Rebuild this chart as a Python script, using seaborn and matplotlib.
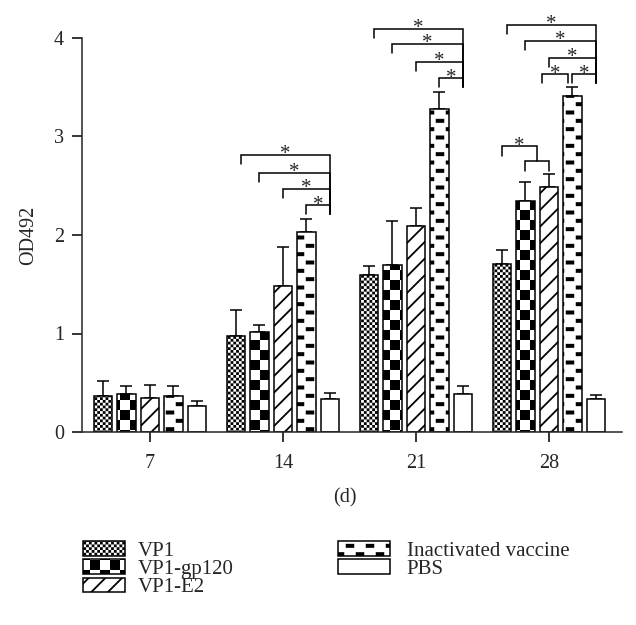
import numpy as np
import pandas as pd
import seaborn as sns
import matplotlib.pyplot as plt
import matplotlib.hatch as mhatch
from matplotlib.path import Path
from matplotlib.patches import Patch

days = ["7", "14", "21", "28"]
groups = ["VP1", "VP1-gp120", "VP1-E2", "Inactivated vaccine", "PBS"]

# OD492 means per day
vp1 = [0.37, 0.97, 1.59, 1.71]
vp1_gp120 = [0.39, 1.02, 1.70, 2.35]
vp1_e2 = [0.35, 1.48, 2.09, 2.49]
inactivated = [0.37, 2.03, 3.28, 3.41]
pbs = [0.26, 0.34, 0.39, 0.33]

# upper error bars
vp1_sd = [0.15, 0.27, 0.10, 0.14]
vp1_gp120_sd = [0.08, 0.07, 0.44, 0.19]
vp1_e2_sd = [0.13, 0.40, 0.18, 0.13]
inactivated_sd = [0.10, 0.13, 0.17, 0.09]
pbs_sd = [0.05, 0.06, 0.08, 0.05]

# significance brackets (day index, left group, right group, height)
sig_day = [1, 1, 1, 1, 2, 2, 2, 2, 3, 3, 3, 3, 3]
sig_left = [0, 1, 2, 3, 0, 1, 2, 3, 0, 1, 2, 2, 3]
sig_right = [4, 4, 4, 4, 4, 4, 4, 4, 4, 4, 4, 3, 4]
sig_y = [2.81, 2.63, 2.47, 2.30, 4.09, 3.94, 3.76, 3.59,
         4.13, 3.97, 3.80, 3.63, 3.63]
# day 28: VP1 vs (VP1-gp120, VP1-E2)
combo_y = [2.90, 2.755]

values = [vp1, vp1_gp120, vp1_e2, inactivated, pbs]
errors = [vp1_sd, vp1_gp120_sd, vp1_e2_sd, inactivated_sd, pbs_sd]
hatches = ["o", "O", "//", "*", ""]

df = pd.DataFrame({
    "day": np.tile(days, len(groups)),
    "group": np.repeat(groups, len(days)),
    "od": np.concatenate(values),
})

# --- custom fill patterns (checkerboards, bricks) hooked into mpl hatching ---
HATCH_LW = 1.3
inset = HATCH_LW * 100 / 72 / 100 / 2   # hatch tile = 1 inch = 100 px


def checker_rects(n):
    c = 1 / n
    return [(i * c + inset, j * c + inset, c - 2 * inset, c - 2 * inset)
            for i in range(n) for j in range(n) if (i + j) % 2 == 0]


def brick_rects(nx, ny, w, h):
    px, py = 1 / nx, 1 / ny
    out = []
    for k in range(ny):
        for c in range(nx):
            out.append(((c + 0.5) * px - w / 2 + inset, (k + 0.25) * py - h / 2 + inset,
                        w - 2 * inset, h - 2 * inset))
        for c in range(nx + 1):
            out.append((c * px - w / 2 + inset, (k + 0.75) * py - h / 2 + inset,
                        w - 2 * inset, h - 2 * inset))
    return out


def tile_hatch(char, rects):
    class TileHatch(mhatch.HatchPatternBase):
        def __init__(self, hatch, density):
            self.num_vertices = 5 * len(rects) if char in hatch else 0

        def set_vertices_and_codes(self, vertices, codes):
            for i, (x, y, w, h) in enumerate(rects):
                vertices[5 * i:5 * i + 5] = [(x, y), (x + w, y), (x + w, y + h), (x, y + h), (x, y)]
                codes[5 * i:5 * i + 5] = [Path.MOVETO, Path.LINETO, Path.LINETO,
                                          Path.LINETO, Path.CLOSEPOLY]
    return TileHatch


# keep the line hatches, swap the circle/star ones for our tiles
line_hatches = [t for t in mhatch._hatch_types
                if t.__name__ not in ("SmallCircles", "LargeCircles",
                                      "SmallFilledCircles", "Stars")]
mhatch._hatch_types[:] = line_hatches + [
    tile_hatch("o", checker_rects(36)),
    tile_hatch("O", checker_rects(10)),
    tile_hatch("*", brick_rects(5, 6, 0.085, 0.04)),
]

sns.set_style("ticks")
plt.rcParams["font.family"] = ["Liberation Serif", "DejaVu Serif"]
plt.rcParams["hatch.linewidth"] = HATCH_LW
plt.rcParams["hatch.color"] = "black"

fig = plt.figure(figsize=(6.36, 6.25), dpi=100)
ax = fig.add_axes([82 / 636, 193 / 625, 540 / 636, 423.55 / 625])

sns.barplot(data=df, x="day", y="od", hue="group", order=days, hue_order=groups,
            palette=["white"] * 5, edgecolor="black", linewidth=1.1,
            width=0.8835, gap=0.22, errorbar=None, legend=False, ax=ax)

for cont, h in zip(ax.containers, hatches):
    for bar in cont:
        bar.set_hatch(h)
        bar.set_zorder(2)

centers = [[b.get_x() + b.get_width() / 2 for b in cont] for cont in ax.containers]

for xs, v, e in zip(centers, values, errors):
    ax.errorbar(xs, v, yerr=[np.zeros(len(e)), e], fmt="none", ecolor="black",
                elinewidth=1.1, capsize=4.3, capthick=1.1, zorder=1)


def bracket(x0, x1, y, d0, d1):
    ax.plot([x0, x0, x1, x1], [y - d0, y, y, y - d1], color="black", lw=1.1,
            solid_joinstyle="miter", zorder=3)
    ax.annotate("*", ((x0 + x1) / 2, y), xytext=(0, -3), textcoords="offset points",
                ha="center", va="baseline", fontsize=15)


foot = {}
for d, r, y in zip(sig_day, sig_right, sig_y):
    if r == 4:
        foot[d] = min(foot.get(d, y), y)

for d, l, r, y in zip(sig_day, sig_left, sig_right, sig_y):
    x0 = centers[l][d] + (0.04 if l == 0 else 0)
    if r == 4:
        x1, d1 = centers[r][d], y - foot[d] + 0.09
    else:
        x0, x1, d1 = x0 - 0.05, centers[r][d] - 0.03, 0.09
    bracket(x0, x1, y, 0.09, d1)

# grouped comparison on day 28
g0, g1 = centers[1][3], centers[2][3]
ax.plot([g0, g0, g1, g1], [combo_y[1] - 0.105, combo_y[1], combo_y[1], combo_y[1] - 0.105],
        color="black", lw=1.1, solid_joinstyle="miter", zorder=3)
bracket(centers[0][3], (g0 + g1) / 2, combo_y[0], 0.1, combo_y[0] - combo_y[1])

ax.set_xlim(-0.511, 3.549)
ax.set_ylim(0, 4.3)
ax.set_yticks([0, 1, 2, 3, 4])
ax.set_yticklabels(["0", "1", "2", "3", "4"])
ax.spines["left"].set_bounds(0, 4)
for s in ["top", "right"]:
    ax.spines[s].set_visible(False)
for s in ["left", "bottom"]:
    ax.spines[s].set_linewidth(1.1)
ax.tick_params(direction="out", length=7, width=1.1, labelsize=14.5, color="black")
ax.tick_params(axis="x", pad=9)
ax.tick_params(axis="y", pad=6)

ax.set_xlabel("(d)", fontsize=14.5)
ax.set_ylabel("OD492", fontsize=14.5)
ax.xaxis.set_label_coords(0.487, -0.132)
ax.yaxis.set_label_coords(-0.082, 2 / 4.3)

handles = [Patch(facecolor="white", edgecolor="black", linewidth=1.1, hatch=h) for h in hatches]
leg_kw = dict(loc="upper left", frameon=False, fontsize=15, handleheight=0.7,
              labelspacing=-0.06, borderpad=0, borderaxespad=0,
              bbox_transform=fig.transFigure)
fig.legend(handles[:3], groups[:3], bbox_to_anchor=(83 / 636, 1 - 541 / 625),
           handlelength=2.0, handletextpad=0.62, **leg_kw)
fig.legend(handles[3:], groups[3:], bbox_to_anchor=(338 / 636, 1 - 541 / 625),
           handlelength=2.5, handletextpad=0.8, **leg_kw)

fig.savefig("out.png", dpi=100)
